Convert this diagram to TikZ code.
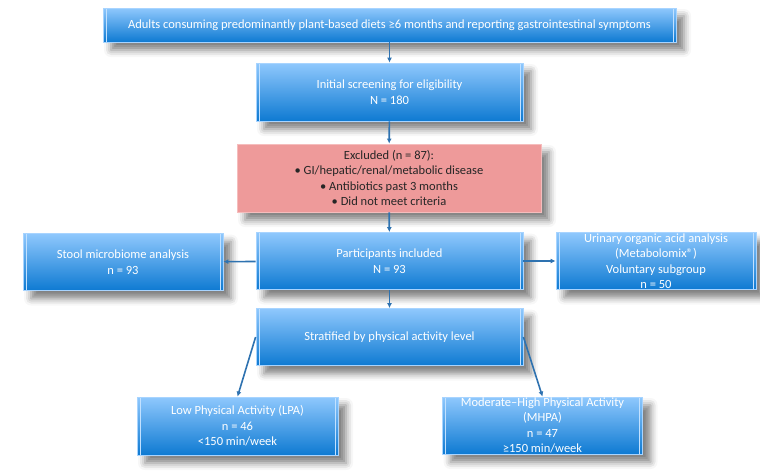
\documentclass[tikz,border=0pt]{standalone}
\usepackage{fontspec}
\setmainfont{Carlito}
\usetikzlibrary{shadows.blur, arrows.meta}
\definecolor{boxtop}{HTML}{8FC8FD}
\definecolor{boxmid}{HTML}{55A8F0}
\definecolor{boxbot}{HTML}{0E7AD2}
\definecolor{boxedge}{HTML}{A8D4FF}
\definecolor{exclfill}{HTML}{EE9A9A}
\definecolor{excledge}{HTML}{F5BDBD}
\definecolor{flow}{HTML}{2E72B0}
\tikzstyle{stage}=[rectangle, draw=boxedge, line width=0.8pt, top color=boxtop, middle color=boxmid, bottom color=boxbot, text=white, align=center, inner sep=0pt, font=\fontsize{12.5}{15.5}\selectfont, blur shadow={shadow xshift=8pt, shadow yshift=-8pt, shadow blur radius=7pt, shadow opacity=50},
  path picture={\draw[boxedge!70!white, line width=1pt] ([xshift=3pt]path picture bounding box.north west) -- ([xshift=3pt]path picture bounding box.south west) ([xshift=-3pt]path picture bounding box.north east) -- ([xshift=-3pt]path picture bounding box.south east);}]
\tikzstyle{excluded}=[stage, draw=excledge, top color=exclfill, middle color=exclfill, bottom color=exclfill, text=black!85, path picture={}]
\tikzstyle{flowline}=[flow, line width=1.6pt, -{Latex[length=5pt,width=5pt]}]

\begin{document}
\begin{tikzpicture}[x=1pt, y=-1pt]
\useasboundingbox (0,0) rectangle (760,475);
% main column
\node[stage, minimum width=573pt, minimum height=34pt] (adults) at (389.5,25) {Adults consuming predominantly plant-based diets ≥6 months and reporting gastrointestinal symptoms};
\node[stage, minimum width=267pt, minimum height=58pt] (screen) at (389.5,92) {Initial screening for eligibility\\N = 180};
\node[excluded, minimum width=304pt, minimum height=68pt] (excl) at (389,178) {Excluded (n = 87):\\• GI/hepatic/renal/metabolic disease\\• Antibiotics past 3 months\\• Did not meet criteria};
\node[stage, minimum width=267pt, minimum height=57pt] (incl) at (389.5,261) {Participants included\\N = 93};
\node[stage, minimum width=267pt, minimum height=57pt] (strat) at (389.5,337) {Stratified by physical activity level};
% side analyses
\node[stage, minimum width=200pt, minimum height=57pt] (stool) at (123,262) {Stool microbiome analysis\\n = 93};
\node[stage, minimum width=200pt, minimum height=57pt] (urine) at (656,261) {Urinary organic acid analysis\\(Metabolomix®)\\Voluntary subgroup\\n = 50};
% activity groups
\node[stage, minimum width=201pt, minimum height=58pt] (lpa) at (237.5,426) {Low Physical Activity (LPA)\\n = 46\\<150 min/week};
\node[stage, minimum width=200pt, minimum height=57pt] (mhpa) at (542.5,425.5) {Moderate–High Physical Activity\\(MHPA)\\n = 47\\≥150 min/week};

\draw[flowline] (adults) -- (screen);
\draw[flowline] (screen) -- (excl);
\draw[flowline] (excl) -- (incl);
\draw[flowline] (incl) -- (strat);
\draw[flowline] (incl) -- (stool);
\draw[flowline] (incl) -- (urine);
\draw[flowline] (strat.west) -- (lpa.north);
\draw[flowline] (strat.east) -- (mhpa.north);
\end{tikzpicture}
\end{document}
